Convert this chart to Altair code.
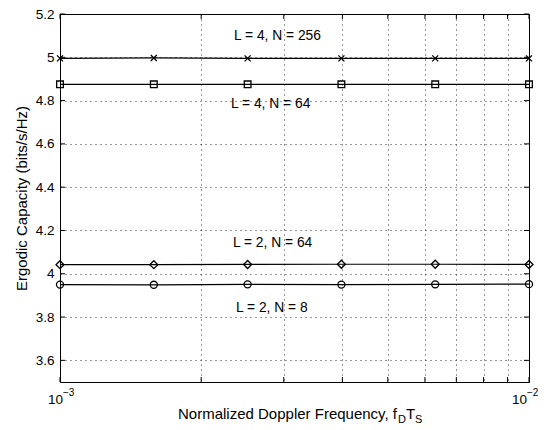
import altair as alt
import pandas as pd

# ---------------- data ----------------
doppler = [0.001, 0.001585, 0.002512, 0.003981, 0.00631, 0.01]
cap_L4_N256 = [4.995, 4.997, 4.995, 4.995, 4.995, 4.995]
cap_L4_N64 = [4.875, 4.875, 4.875, 4.875, 4.875, 4.875]
cap_L2_N64 = [4.042, 4.042, 4.043, 4.044, 4.044, 4.043]
cap_L2_N8 = [3.950, 3.949, 3.951, 3.950, 3.951, 3.952]

series_names = ["L = 4, N = 256", "L = 4, N = 64", "L = 2, N = 64", "L = 2, N = 8"]
series_values = [cap_L4_N256, cap_L4_N64, cap_L2_N64, cap_L2_N8]
series_shapes = ["M-1,-1L1,1M-1,1L1,-1", "square", "diamond", "circle"]
series_sizes = [36, 45, 64, 50]

label_texts = ["L = 4, N = 256", "L = 4, N = 64", "L = 2, N = 64", "L = 2, N = 8"]
label_x = [0.00235, 0.002316, 0.002338, 0.002373]
label_y = [5.099, 4.782, 4.142, 3.844]

x_grid = [0.002, 0.003, 0.004, 0.005, 0.006, 0.007, 0.008, 0.009]
x_ticks = [0.001, 0.002, 0.003, 0.004, 0.005, 0.006, 0.007, 0.008, 0.009, 0.01]
y_ticks = [3.6, 3.8, 4.0, 4.2, 4.4, 4.6, 4.8, 5.0, 5.2]
x_major = [0.001, 0.01]
x_major_base = ["10", "10"]
x_major_exp = ["\u22123", "\u22122"]
x_title_parts = ["Normalized Doppler Frequency, f", "D", "T", "S"]

W, H = 469, 368
FONT = "Liberation Sans"

rows = []
for name, vals, sz in zip(series_names, series_values, series_sizes):
    for xv, yv in zip(doppler, vals):
        rows.append({"series": name, "x": xv, "y": yv, "size": sz})
df = pd.DataFrame(rows)

xscale = alt.Scale(type="log", domain=[0.001, 0.01])
yscale = alt.Scale(domain=[3.5, 5.2], nice=False, zero=False)

GRID = dict(grid=True, gridColor="#000", gridDash=[1, 4], gridOpacity=0.8, gridWidth=1)
xaxis = alt.Axis(values=x_grid, labels=False, ticks=False, domain=False, title=None, **GRID)
yaxis = alt.Axis(values=y_ticks, format="~g", ticks=False, domain=False,
                 labelFont=FONT, labelFontSize=13.5, labelColor="#000", labelPadding=6,
                 title="Ergodic Capacity (bits/s/Hz)", titleFont=FONT, titleFontSize=15,
                 titleFontWeight="normal", titleColor="#000", titlePadding=6, **GRID)

base = alt.Chart(df)

lines = base.mark_line(color="black", strokeWidth=1.2).encode(
    x=alt.X("x:Q", scale=xscale, axis=xaxis),
    y=alt.Y("y:Q", scale=yscale, axis=yaxis),
    detail="series:N",
)

points = base.mark_point(color="black", filled=False, strokeWidth=1.3, opacity=1).encode(
    x=alt.X("x:Q", scale=xscale),
    y=alt.Y("y:Q", scale=yscale),
    shape=alt.Shape("series:N", scale=alt.Scale(domain=series_names, range=series_shapes), legend=None),
    size=alt.Size("size:Q", scale=None, legend=None),
)

lab_df = pd.DataFrame({"t": label_texts, "x": label_x, "y": label_y})
labels = alt.Chart(lab_df).mark_text(align="left", baseline="middle", font=FONT, fontSize=13.8,
                                     color="black").encode(
    x=alt.X("x:Q", scale=xscale), y=alt.Y("y:Q", scale=yscale), text="t:N")

# inside ticks (MATLAB style)
yt_df = pd.DataFrame({"y": y_ticks})
ytick_l = alt.Chart(yt_df).mark_rule(color="black", strokeWidth=1).encode(
    y=alt.Y("y:Q", scale=yscale), x=alt.value(0), x2=alt.value(5))
ytick_r = alt.Chart(yt_df).mark_rule(color="black", strokeWidth=1).encode(
    y=alt.Y("y:Q", scale=yscale), x=alt.value(W - 5), x2=alt.value(W))
xt_df = pd.DataFrame({"x": x_ticks})
xtick_b = alt.Chart(xt_df).mark_rule(color="black", strokeWidth=1).encode(
    x=alt.X("x:Q", scale=xscale), y=alt.value(H - 5), y2=alt.value(H))
xtick_t = alt.Chart(xt_df).mark_rule(color="black", strokeWidth=1).encode(
    x=alt.X("x:Q", scale=xscale), y=alt.value(0), y2=alt.value(5))

# x tick labels 10^-3 and 10^-2
xm_df = pd.DataFrame({"x": x_major, "e": x_major_exp, "b": x_major_base, "k": [0, 1]})


def tick_label(k, dx):
    src = alt.Chart(xm_df).transform_filter(f"datum.k == {k}")
    b = src.mark_text(align="right", baseline="middle", font=FONT, fontSize=13.5,
                      color="black", dx=dx).encode(
        x=alt.X("x:Q", scale=xscale), y=alt.value(H + 18), text="b:N")
    e = src.mark_text(align="left", baseline="middle", font=FONT, fontSize=10,
                      color="black", dx=dx).encode(
        x=alt.X("x:Q", scale=xscale), y=alt.value(H + 11), text="e:N")
    return [b, e]


xlabels = tick_label(0, 3) + tick_label(1, -2)

# x title with subscripts
title_df = pd.DataFrame({"t": x_title_parts, "k": [0, 1, 2, 3]})


def title_part(k, align, xpix, ypix, size):
    return alt.Chart(title_df).transform_filter(f"datum.k == {k}").mark_text(
        align=align, baseline="middle", font=FONT, fontSize=size, color="black").encode(
        x=alt.value(xpix), y=alt.value(ypix), text="t:N")


xtitle = [
    title_part(0, "right", 337, H + 32, 15),
    title_part(1, "left", 338, H + 38, 11),
    title_part(2, "left", 346, H + 32, 15),
    title_part(3, "left", 355, H + 38, 11),
]

chart = alt.layer(
    lines, points, labels, ytick_l, ytick_r, xtick_b, xtick_t, *xlabels, *xtitle
).properties(
    width=W, height=H,
    autosize=alt.AutoSizeParams(type="none"),
    padding={"left": 52, "top": 6, "right": 10, "bottom": 46},
    background="white",
).configure_view(stroke="black", strokeWidth=1)

chart.save("out.html", embed_options={"renderer": "svg", "actions": False})
